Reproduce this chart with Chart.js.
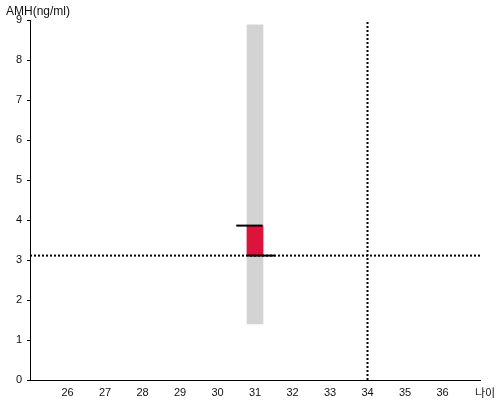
<!DOCTYPE html>
<html>
<head>
<meta charset="utf-8">
<script src="https://cdn.jsdelivr.net/npm/chart.js@4/dist/chart.umd.min.js"></script>
<style>
html,body{margin:0;padding:0;background:#fff;}
#wrap{width:500px;height:400px;position:relative;}
</style>
</head>
<body>
<div id="wrap"><canvas id="c" width="500" height="400"></canvas></div>
<script>
// ---- data ----
const xRange = [25, 37];
const yRange = [0, 9];
const hiddenXTicks = [25, 37];
const age = 31;
const rangeLow = 1.4;
const rangeHigh = 8.88;
const boxLow = 3.11;
const boxHigh = 3.86;
const topTickX = [30.5, 31.2];
const bottomTickX = [30.8, 31.53];
const refAge = 34;
const refAMH = 3.11;
const yTitle = 'AMH(ng/ml)';
const xTitle = '나이';

const titlesPlugin = {
  id: 'titles',
  afterDraw(chart) {
    const ctx = chart.ctx;
    const a = chart.chartArea;
    ctx.save();
    ctx.fillStyle = '#111';
    ctx.font = '12px "Liberation Sans", Arial, sans-serif';
    ctx.textAlign = 'left';
    ctx.textBaseline = 'alphabetic';
    ctx.fillText(yTitle, 6, 15);
    ctx.font = '11px "Noto Sans CJK KR", sans-serif';
    ctx.fillText(xTitle, a.right - 5, 397);
    ctx.restore();
  }
};

new Chart(document.getElementById('c'), {
  type: 'bar',
  data: {
    datasets: [
      { type: 'line', order: 1, data: [{x: xRange[0], y: refAMH}, {x: xRange[1], y: refAMH}],
        borderColor: '#000', borderWidth: 2, borderDash: [2, 2], pointRadius: 0, fill: false },
      { type: 'line', order: 1, data: [{x: refAge, y: yRange[0]}, {x: refAge, y: yRange[1]}],
        borderColor: '#000', borderWidth: 2, borderDash: [2, 2], pointRadius: 0, fill: false },
      { type: 'line', order: 2, data: [{x: topTickX[0], y: boxHigh}, {x: topTickX[1], y: boxHigh}],
        borderColor: '#000', borderWidth: 2, pointRadius: 0, fill: false },
      { type: 'line', order: 2, data: [{x: bottomTickX[0], y: boxLow}, {x: bottomTickX[1], y: boxLow}],
        borderColor: '#000', borderWidth: 2, pointRadius: 0, fill: false },
      { type: 'bar', order: 4, grouped: false, barThickness: 16, data: [{x: age, y: [boxLow, boxHigh]}],
        backgroundColor: '#dc143c', borderWidth: 0 },
      { type: 'bar', order: 5, grouped: false, barThickness: 16, data: [{x: age, y: [rangeLow, rangeHigh]}],
        backgroundColor: '#d3d3d3', borderWidth: 0 }
    ]
  },
  options: {
    responsive: false,
    animation: false,
    events: [],
    layout: { padding: { left: 0, right: 20, top: 20, bottom: 0 } },
    plugins: { legend: { display: false }, tooltip: { enabled: false }, title: { display: false } },
    scales: {
      x: {
        type: 'linear', min: xRange[0], max: xRange[1], offset: false,
        grid: { display: true, drawOnChartArea: false, drawTicks: false },
        border: { display: true, color: '#000', width: 1 },
        ticks: { stepSize: 1, padding: 6, color: '#111', font: { family: '"Liberation Sans", Arial, sans-serif', size: 11 },
          callback: (v) => hiddenXTicks.includes(v) ? '' : String(v), maxRotation: 0, autoSkip: false },
        afterFit(s) { s.height = 20; }
      },
      y: {
        type: 'linear', min: yRange[0], max: yRange[1],
        grid: { display: true, drawOnChartArea: false, drawTicks: true, tickLength: 3, color: '#000' },
        border: { display: true, color: '#000', width: 1 },
        ticks: { stepSize: 1, padding: 5, color: '#111', font: { family: '"Liberation Sans", Arial, sans-serif', size: 11 } },
        afterFit(s) { s.width = 30; }
      }
    }
  },
  plugins: [titlesPlugin]
});
</script>
</body>
</html>
